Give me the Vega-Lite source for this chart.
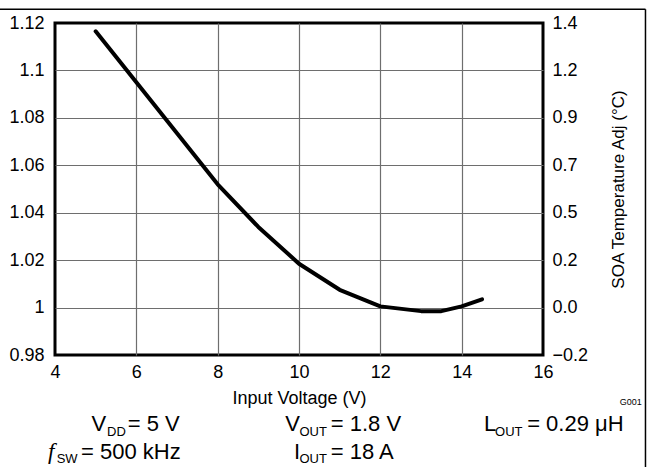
{
  "$schema": "https://vega.github.io/schema/vega-lite/v6.json",
  "width": 488,
  "height": 332,
  "autosize": "none",
  "padding": {"left": 55, "top": 23, "right": 109, "bottom": 112},
  "background": "white",
  "config": {
    "font": "Liberation Sans",
    "view": {"stroke": "black", "strokeWidth": 3},
    "axis": {"labelColor": "black", "titleColor": "black", "labelFont": "Liberation Sans", "titleFont": "Liberation Sans", "titleFontWeight": "normal"}
  },
  "datasets": {
    "curve": [
      {"x": 5, "y": 1.1165},
      {"x": 6, "y": 1.095},
      {"x": 7, "y": 1.0735},
      {"x": 8, "y": 1.052},
      {"x": 9, "y": 1.034},
      {"x": 10, "y": 1.0185},
      {"x": 11, "y": 1.0075},
      {"x": 12, "y": 1.0005},
      {"x": 13, "y": 0.9985},
      {"x": 13.5, "y": 0.9985},
      {"x": 14, "y": 1.0005},
      {"x": 14.5, "y": 1.0035}
    ],
    "frame": [
      {"x": 2.6, "x2": 18.52, "y": 1.1258, "y2": 1.1258},
      {"x": 18.52, "x2": 18.52, "y": 1.1258, "y2": 0.93}
    ],
    "notes": [
      {"x": 4.90, "y": 0.948, "text": "V", "kind": "main"},
      {"x": 5.79, "y": 0.948, "text": "= 5 V", "kind": "main"},
      {"x": 4.64, "y": 0.9361, "text": "= 500 kHz", "kind": "main"},
      {"x": 9.66, "y": 0.948, "text": "V", "kind": "main"},
      {"x": 10.78, "y": 0.948, "text": "= 1.8 V", "kind": "main"},
      {"x": 9.88, "y": 0.9361, "text": "I", "kind": "main"},
      {"x": 10.78, "y": 0.9361, "text": "= 18 A", "kind": "main"},
      {"x": 14.55, "y": 0.948, "text": "L", "kind": "main"},
      {"x": 15.61, "y": 0.948, "text": "= 0.29 μH", "kind": "main"},
      {"x": 5.28, "y": 0.946, "text": "DD", "kind": "sub"},
      {"x": 4.04, "y": 0.9343, "text": "SW", "kind": "sub"},
      {"x": 10.01, "y": 0.946, "text": "OUT", "kind": "sub"},
      {"x": 10.01, "y": 0.9343, "text": "OUT", "kind": "sub"},
      {"x": 14.82, "y": 0.946, "text": "OUT", "kind": "sub"},
      {"x": 3.83, "y": 0.9361, "text": "f", "kind": "ital"},
      {"x": 18.43, "y": 0.9589, "text": "G001", "kind": "code"}
    ]
  },
  "layer": [
    {
      "layer": [
        {
          "data": {"name": "curve"},
          "mark": {"type": "line", "color": "black", "strokeWidth": 4, "strokeCap": "round", "strokeJoin": "round"},
          "encoding": {
            "x": {
              "field": "x", "type": "quantitative",
              "scale": {"domain": [4, 16], "nice": false, "zero": false},
              "axis": {
                "values": [4, 6, 8, 10, 12, 14, 16],
                "grid": true,
                "gridColor": {"condition": {"test": "datum.value <= 4 || datum.value >= 16", "value": "transparent"}, "value": "#6e6e6e"},
                "gridWidth": 1.2,
                "ticks": false,
                "domain": false,
                "labelFontSize": 18,
                "labelPadding": 8,
                "labelFlush": false,
                "title": "Input Voltage (V)",
                "titleFontSize": 18,
                "titlePadding": 8
              }
            },
            "y": {
              "field": "y", "type": "quantitative",
              "scale": {"domain": [0.98, 1.12], "nice": false, "zero": false},
              "axis": {
                "values": [0.98, 1, 1.02, 1.04, 1.06, 1.08, 1.1, 1.12],
                "format": ".2~f",
                "grid": true,
                "gridColor": {"condition": {"test": "datum.value < 0.985 || datum.value > 1.115", "value": "transparent"}, "value": "#6e6e6e"},
                "gridWidth": 1.2,
                "ticks": false,
                "domain": false,
                "labelFontSize": 18,
                "labelPadding": 11,
                "labelFlush": false,
                "title": null
              }
            }
          }
        },
        {
          "data": {"name": "frame"},
          "mark": {"type": "rule", "color": "black", "strokeWidth": 1.5},
          "encoding": {
            "x": {"field": "x", "type": "quantitative"},
            "x2": {"field": "x2"},
            "y": {"field": "y", "type": "quantitative"},
            "y2": {"field": "y2"}
          }
        },
        {
          "data": {"name": "notes"},
          "transform": [{"filter": "datum.kind == 'main'"}],
          "mark": {"type": "text", "align": "left", "baseline": "alphabetic", "fontSize": 22, "font": "Liberation Sans", "color": "black"},
          "encoding": {
            "x": {"field": "x", "type": "quantitative"},
            "y": {"field": "y", "type": "quantitative"},
            "text": {"field": "text"}
          }
        },
        {
          "data": {"name": "notes"},
          "transform": [{"filter": "datum.kind == 'sub'"}],
          "mark": {"type": "text", "align": "left", "baseline": "alphabetic", "fontSize": 13, "font": "Liberation Sans", "color": "black"},
          "encoding": {
            "x": {"field": "x", "type": "quantitative"},
            "y": {"field": "y", "type": "quantitative"},
            "text": {"field": "text"}
          }
        },
        {
          "data": {"name": "notes"},
          "transform": [{"filter": "datum.kind == 'ital'"}],
          "mark": {"type": "text", "align": "left", "baseline": "alphabetic", "fontSize": 23, "font": "Liberation Serif", "fontStyle": "italic", "color": "black"},
          "encoding": {
            "x": {"field": "x", "type": "quantitative"},
            "y": {"field": "y", "type": "quantitative"},
            "text": {"field": "text"}
          }
        },
        {
          "data": {"name": "notes"},
          "transform": [{"filter": "datum.kind == 'code'"}],
          "mark": {"type": "text", "align": "right", "baseline": "alphabetic", "fontSize": 9, "font": "Liberation Sans", "color": "black"},
          "encoding": {
            "x": {"field": "x", "type": "quantitative"},
            "y": {"field": "y", "type": "quantitative"},
            "text": {"field": "text"}
          }
        }
      ]
    },
    {
      "data": {"name": "curve"},
      "mark": {"type": "line", "opacity": 0},
      "encoding": {
        "x": {"field": "x", "type": "quantitative"},
        "y": {
          "field": "y", "type": "quantitative",
          "scale": {"domain": [0.98, 1.12], "nice": false, "zero": false},
          "axis": {
            "orient": "right",
            "values": [0.98, 1, 1.02, 1.04, 1.06, 1.08, 1.1, 1.12],
            "labelExpr": "datum.value > 1.11 ? '1.4' : datum.value > 1.09 ? '1.2' : datum.value > 1.07 ? '0.9' : datum.value > 1.05 ? '0.7' : datum.value > 1.03 ? '0.5' : datum.value > 1.01 ? '0.2' : datum.value > 0.99 ? '0.0' : '−0.2'",
            "grid": false,
            "ticks": false,
            "domain": false,
            "labelFontSize": 18,
            "labelPadding": 9,
            "labelFlush": false,
            "title": "SOA Temperature Adj (°C)",
            "titleFontSize": 17,
            "titleAngle": 270,
            "titlePadding": 40
          }
        }
      }
    }
  ],
  "resolve": {"scale": {"y": "independent"}}
}
